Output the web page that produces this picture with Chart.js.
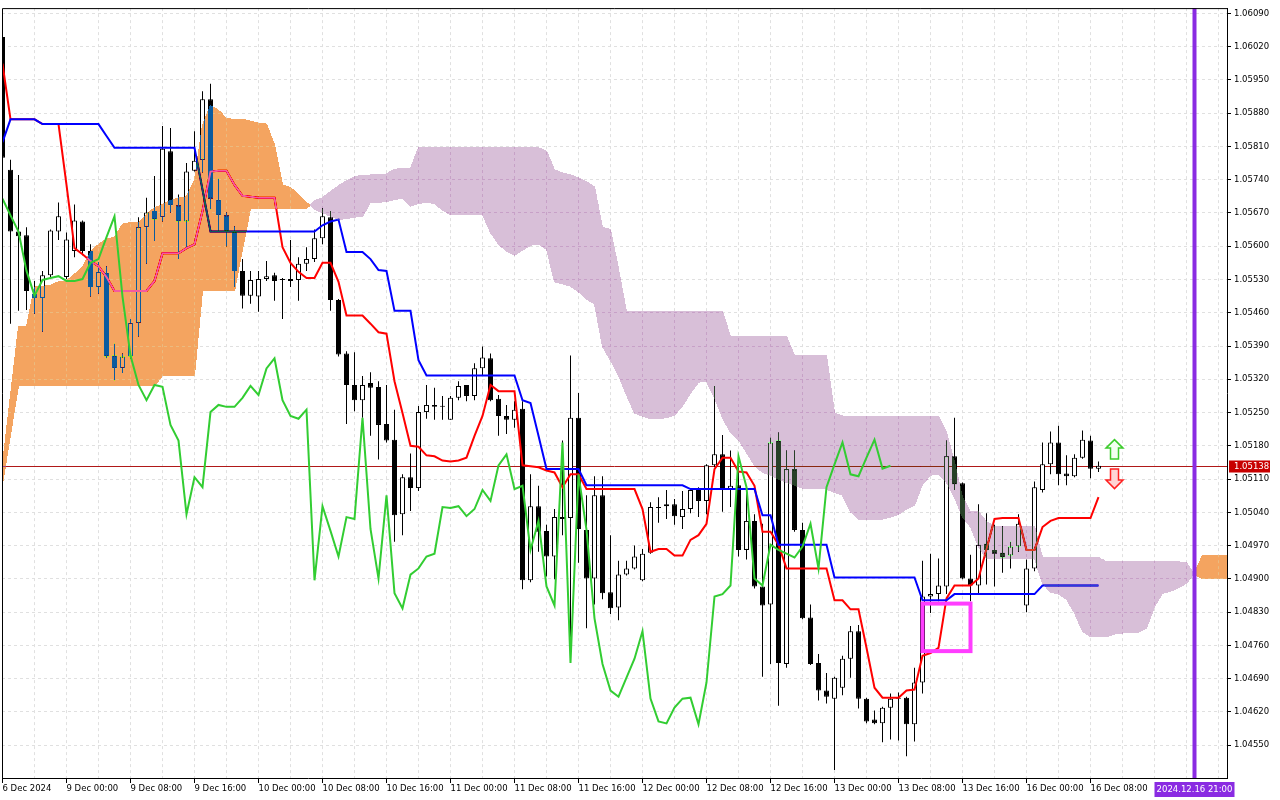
<!DOCTYPE html>
<html>
<head>
<meta charset="utf-8">
<title>EURUSD H1 Ichimoku</title>
<script src="https://cdn.jsdelivr.net/npm/chart.js@4.4.1/dist/chart.umd.min.js"></script>
<style>
  html, body { margin: 0; padding: 0; background: #ffffff; }
  #chart { display: block; }
</style>
</head>
<body>
<canvas id="chart" width="1280" height="800"></canvas>
<script>
// hourly candles, bar 0 = 6 Dec 16:00
const opens = [
  1.06040, 1.05761, 1.05631, 1.05623, 1.05500, 1.05491, 1.05539, 1.05631, 1.05535, 1.05590,
  1.05652, 1.05590, 1.05514, 1.05544, 1.05370, 1.05343, 1.05368, 1.05439, 1.05640, 1.05674,
  1.05661, 1.05800, 1.05686, 1.05652, 1.05759, 1.05782, 1.05909, 1.05698, 1.05665, 1.05631,
  1.05548, 1.05496, 1.05494, 1.05531, 1.05539, 1.05531, 1.05531, 1.05529, 1.05563, 1.05573,
  1.05617, 1.05661, 1.05487, 1.05374, 1.05308, 1.05276, 1.05312, 1.05304, 1.05226, 1.05193,
  1.05036, 1.05114, 1.05091, 1.05251, 1.05266, 1.05264, 1.05235, 1.05281, 1.05308, 1.05285,
  1.05343, 1.05364, 1.05279, 1.05243, 1.05235, 1.05258, 1.04897, 1.05053, 1.05001, 1.04947,
  1.05030, 1.05028, 1.05239, 1.05003, 1.04901, 1.05076, 1.04872, 1.04840, 1.04909, 1.04922,
  1.04897, 1.04955, 1.05051, 1.05057, 1.05057, 1.05030, 1.05047, 1.05087, 1.05064, 1.05139,
  1.05162, 1.05087, 1.05097, 1.04961, 1.05022, 1.04884, 1.04846, 1.05191, 1.04721, 1.05131,
  1.05003, 1.04819, 1.04723, 1.04665, 1.04648, 1.04671, 1.04732, 1.04790, 1.04648, 1.04604,
  1.04596, 1.04629, 1.04648, 1.04650, 1.04594, 1.04682, 1.04863, 1.04868, 1.04884, 1.05158,
  1.05101, 1.04901, 1.04886, 1.04974, 1.04961, 1.04955, 1.04949, 1.04968, 1.04844, 1.04922,
  1.05087, 1.05141, 1.05187, 1.05122, 1.05116, 1.05155, 1.05191, 1.05132
];
const highs = [
  1.06043, 1.05782, 1.05750, 1.05640, 1.05527, 1.05548, 1.05635, 1.05692, 1.05629, 1.05688,
  1.05654, 1.05604, 1.05567, 1.05558, 1.05395, 1.05374, 1.05447, 1.05661, 1.05702, 1.05748,
  1.05853, 1.05849, 1.05709, 1.05775, 1.05842, 1.05926, 1.05942, 1.05742, 1.05671, 1.05642,
  1.05573, 1.05548, 1.05548, 1.05569, 1.05544, 1.05533, 1.05613, 1.05577, 1.05598, 1.05635,
  1.05680, 1.05674, 1.05489, 1.05379, 1.05377, 1.05327, 1.05335, 1.05316, 1.05308, 1.05256,
  1.05120, 1.05164, 1.05264, 1.05308, 1.05302, 1.05285, 1.05285, 1.05316, 1.05308, 1.05354,
  1.05389, 1.05374, 1.05287, 1.05266, 1.05274, 1.05274, 1.05120, 1.05096, 1.05014, 1.05047,
  1.05191, 1.05370, 1.05291, 1.05076, 1.05116, 1.05116, 1.04992, 1.04938, 1.04938, 1.04970,
  1.04963, 1.05061, 1.05072, 1.05087, 1.05068, 1.05085, 1.05089, 1.05093, 1.05141, 1.05306,
  1.05203, 1.05170, 1.05155, 1.05093, 1.05036, 1.05016, 1.05197, 1.05208, 1.05170, 1.05170,
  1.05018, 1.04846, 1.04742, 1.04702, 1.04694, 1.04738, 1.04801, 1.04803, 1.04650, 1.04623,
  1.04631, 1.04659, 1.04661, 1.04652, 1.04713, 1.04938, 1.04953, 1.04943, 1.05191, 1.05239,
  1.05103, 1.04951, 1.05057, 1.05038, 1.05014, 1.05011, 1.04978, 1.05036, 1.04941, 1.05105,
  1.05187, 1.05210, 1.05222, 1.05160, 1.05162, 1.05212, 1.05201, 1.05147
];
const lows = [
  1.05782, 1.05437, 1.05464, 1.05466, 1.05458, 1.05420, 1.05535, 1.05613, 1.05531, 1.05577,
  1.05581, 1.05494, 1.05500, 1.05364, 1.05318, 1.05333, 1.05364, 1.05410, 1.05563, 1.05611,
  1.05652, 1.05671, 1.05573, 1.05598, 1.05757, 1.05755, 1.05678, 1.05631, 1.05600, 1.05514,
  1.05469, 1.05479, 1.05462, 1.05527, 1.05485, 1.05447, 1.05514, 1.05485, 1.05548, 1.05567,
  1.05604, 1.05464, 1.05368, 1.05226, 1.05253, 1.05239, 1.05201, 1.05151, 1.05187, 1.04978,
  1.04992, 1.05043, 1.05085, 1.05237, 1.05235, 1.05235, 1.05235, 1.05276, 1.05274, 1.05276,
  1.05327, 1.05274, 1.05201, 1.05205, 1.05218, 1.04878, 1.04893, 1.04957, 1.04905, 1.04899,
  1.04992, 1.04723, 1.04934, 1.04796, 1.04846, 1.04857, 1.04826, 1.04813, 1.04907, 1.04920,
  1.04895, 1.04953, 1.05018, 1.05026, 1.05014, 1.05005, 1.05038, 1.05030, 1.05036, 1.05135,
  1.05041, 1.05051, 1.04947, 1.04941, 1.04880, 1.04694, 1.04721, 1.04633, 1.04713, 1.04999,
  1.04815, 1.04719, 1.04644, 1.04638, 1.04498, 1.04655, 1.04692, 1.04627, 1.04596, 1.04594,
  1.04556, 1.04562, 1.04560, 1.04527, 1.04558, 1.04659, 1.04828, 1.04853, 1.04868, 1.05087,
  1.04899, 1.04853, 1.04870, 1.04888, 1.04884, 1.04913, 1.04922, 1.04957, 1.04830, 1.04916,
  1.05082, 1.05120, 1.05097, 1.05097, 1.05114, 1.05153, 1.05112, 1.05125
];
const closes = [
  1.05786, 1.05631, 1.05621, 1.05506, 1.05491, 1.05539, 1.05633, 1.05663, 1.05614, 1.05654,
  1.05590, 1.05514, 1.05546, 1.05368, 1.05343, 1.05368, 1.05439, 1.05640, 1.05671, 1.05656,
  1.05805, 1.05686, 1.05652, 1.05757, 1.05780, 1.05909, 1.05700, 1.05665, 1.05631, 1.05548,
  1.05496, 1.05529, 1.05531, 1.05537, 1.05527, 1.05529, 1.05527, 1.05563, 1.05573, 1.05617,
  1.05663, 1.05487, 1.05372, 1.05308, 1.05276, 1.05308, 1.05302, 1.05224, 1.05191, 1.05034,
  1.05114, 1.05091, 1.05251, 1.05266, 1.05262, 1.05262, 1.05281, 1.05306, 1.05285, 1.05343,
  1.05366, 1.05276, 1.05243, 1.05235, 1.05256, 1.04897, 1.05053, 1.04999, 1.04947, 1.05030,
  1.05026, 1.05239, 1.05005, 1.04901, 1.05076, 1.04870, 1.04838, 1.04909, 1.04922, 1.04947,
  1.04953, 1.05051, 1.05049, 1.05053, 1.05032, 1.05047, 1.05087, 1.05064, 1.05139, 1.05162,
  1.05089, 1.05096, 1.04961, 1.05022, 1.04884, 1.04844, 1.05187, 1.04723, 1.05131, 1.05003,
  1.04817, 1.04721, 1.04665, 1.04652, 1.04692, 1.04732, 1.04790, 1.04648, 1.04600, 1.04596,
  1.04629, 1.04648, 1.04650, 1.04594, 1.04682, 1.04863, 1.04868, 1.04886, 1.05158, 1.05099,
  1.04901, 1.04886, 1.04972, 1.04961, 1.04953, 1.04945, 1.04968, 1.05016, 1.04922, 1.05093,
  1.05141, 1.05187, 1.05120, 1.05116, 1.05155, 1.05193, 1.05132, 1.05138
];

// Ichimoku lines
const tenkan = [
  1.05984, 1.05867, 1.05867, 1.05867, 1.05867, 1.05857, 1.05857, 1.05857, 1.05729, 1.05596,
  1.05583, 1.05569, 1.05558, 1.05535, 1.05506, 1.05506, 1.05506, 1.05506, 1.05506, 1.05527,
  1.05585, 1.05585, 1.05585, 1.05596, 1.05604, 1.05674, 1.05757, 1.05759, 1.05759, 1.05729,
  1.05706, 1.05704, 1.05702, 1.05702, 1.05702, 1.05598, 1.05565, 1.05546, 1.05533, 1.05533,
  1.05565, 1.05565, 1.05525, 1.05454, 1.05454, 1.05454, 1.05437, 1.05419, 1.05416, 1.05316,
  1.05249, 1.05180, 1.05178, 1.05160, 1.05158, 1.05149, 1.05147, 1.05149, 1.05155, 1.05201,
  1.05243, 1.05308, 1.05295, 1.05295, 1.05295, 1.05139, 1.05137, 1.05135, 1.05128, 1.05124,
  1.05093, 1.05120, 1.05120, 1.05089, 1.05089, 1.05089, 1.05089, 1.05089, 1.05089, 1.05089,
  1.05047, 1.04957, 1.04963, 1.04963, 1.04949, 1.04949, 1.04982, 1.04992, 1.05016, 1.05131,
  1.05155, 1.05155, 1.05126, 1.05124, 1.05096, 1.04999, 1.04999, 1.04972, 1.04922, 1.04922,
  1.04922, 1.04922, 1.04922, 1.04922, 1.04855, 1.04855, 1.04836, 1.04836, 1.04755, 1.04671,
  1.04650, 1.04650, 1.04650, 1.04665, 1.04667, 1.04738, 1.04744, 1.04755, 1.04859, 1.04886,
  1.04886, 1.04886, 1.04901, 1.04963, 1.05026, 1.05028, 1.05028, 1.05028, 1.04961, 1.04961,
  1.05009, 1.05022, 1.05028, 1.05028, 1.05028, 1.05028, 1.05028, 1.05072
];
const kijun = [
  1.05819, 1.05867, 1.05867, 1.05867, 1.05867, 1.05857, 1.05857, 1.05857, 1.05857, 1.05857,
  1.05857, 1.05857, 1.05857, 1.05832, 1.05807, 1.05807, 1.05807, 1.05807, 1.05807, 1.05807,
  1.05807, 1.05807, 1.05807, 1.05807, 1.05807, 1.05719, 1.05631, 1.05631, 1.05631, 1.05631,
  1.05631, 1.05631, 1.05631, 1.05631, 1.05631, 1.05631, 1.05631, 1.05631, 1.05631, 1.05631,
  1.05644, 1.05652, 1.05656, 1.05588, 1.05588, 1.05588, 1.05573, 1.05550, 1.05548, 1.05464,
  1.05464, 1.05464, 1.05360, 1.05328, 1.05328, 1.05328, 1.05328, 1.05328, 1.05328, 1.05328,
  1.05328, 1.05328, 1.05328, 1.05328, 1.05328, 1.05276, 1.05270, 1.05201, 1.05131, 1.05131,
  1.05131, 1.05131, 1.05131, 1.05097, 1.05097, 1.05097, 1.05097, 1.05097, 1.05097, 1.05097,
  1.05097, 1.05097, 1.05097, 1.05097, 1.05097, 1.05097, 1.05089, 1.05089, 1.05089, 1.05089,
  1.05089, 1.05089, 1.05089, 1.05089, 1.05089, 1.05034, 1.05034, 1.04972, 1.04972, 1.04972,
  1.04972, 1.04972, 1.04972, 1.04972, 1.04903, 1.04903, 1.04903, 1.04903, 1.04903, 1.04903,
  1.04903, 1.04903, 1.04903, 1.04903, 1.04903, 1.04855, 1.04855, 1.04855, 1.04855, 1.04868,
  1.04868, 1.04868, 1.04868, 1.04868, 1.04868, 1.04868, 1.04868, 1.04868, 1.04868, 1.04868,
  1.04886, 1.04886, 1.04886, 1.04886, 1.04886, 1.04886, 1.04886, 1.04886
];
// lagging line, plotted 26 bars back
const chikou = [
  1.05700, 1.05665, 1.05631, 1.05548, 1.05496, 1.05529, 1.05533, 1.05537, 1.05527, 1.05527,
  1.05531, 1.05565, 1.05573, 1.05619, 1.05663, 1.05494, 1.05370, 1.05308, 1.05276, 1.05308,
  1.05304, 1.05224, 1.05191, 1.05036, 1.05114, 1.05093, 1.05251, 1.05266, 1.05262, 1.05262,
  1.05281, 1.05306, 1.05287, 1.05343, 1.05364, 1.05276, 1.05243, 1.05237, 1.05256, 1.04897,
  1.05053, 1.05001, 1.04947, 1.05030, 1.05026, 1.05239, 1.05005, 1.04901, 1.05076, 1.04870,
  1.04838, 1.04909, 1.04922, 1.04947, 1.04953, 1.05051, 1.05049, 1.05053, 1.05032, 1.05047,
  1.05087, 1.05064, 1.05139, 1.05162, 1.05089, 1.05096, 1.04961, 1.05022, 1.04884, 1.04844,
  1.05187, 1.04723, 1.05120, 1.05003, 1.04817, 1.04721, 1.04665, 1.04652, 1.04692, 1.04732,
  1.04790, 1.04648, 1.04600, 1.04596, 1.04629, 1.04648, 1.04650, 1.04594, 1.04682, 1.04863,
  1.04868, 1.04886, 1.05158, 1.05093, 1.04901, 1.04886, 1.04972, 1.04961, 1.04953, 1.04945,
  1.04968, 1.05016, 1.04922, 1.05093, 1.05141, 1.05187, 1.05120, 1.05116, 1.05155, 1.05193,
  1.05132, 1.05138
];
// cloud edges, shifted 26 bars ahead
const spanA = [
  1.05141, 1.05287, 1.05431, 1.05431, 1.05514, 1.05516, 1.05518, 1.05525, 1.05527, 1.05541,
  1.05556, 1.05588, 1.05604, 1.05615, 1.05619, 1.05646, 1.05650, 1.05650, 1.05667, 1.05681,
  1.05688, 1.05696, 1.05702, 1.05704, 1.05740, 1.05855, 1.05896, 1.05886, 1.05869, 1.05867,
  1.05867, 1.05863, 1.05859, 1.05857, 1.05813, 1.05729, 1.05723, 1.05709, 1.05692, 1.05678,
  1.05671, 1.05663, 1.05656, 1.05658, 1.05661, 1.05663, 1.05692, 1.05692, 1.05694, 1.05698,
  1.05702, 1.05684, 1.05690, 1.05692, 1.05690, 1.05676, 1.05667, 1.05667, 1.05667, 1.05667,
  1.05667, 1.05629, 1.05604, 1.05590, 1.05581, 1.05592, 1.05602, 1.05604, 1.05594, 1.05525,
  1.05521, 1.05516, 1.05504, 1.05489, 1.05479, 1.05389, 1.05360, 1.05328, 1.05287, 1.05249,
  1.05243, 1.05237, 1.05237, 1.05239, 1.05245, 1.05264, 1.05291, 1.05314, 1.05316, 1.05281,
  1.05239, 1.05208, 1.05193, 1.05166, 1.05139, 1.05124, 1.05118, 1.05110, 1.05103, 1.05097,
  1.05091, 1.05089, 1.05089, 1.05089, 1.05082, 1.05076, 1.05041, 1.05026, 1.05024, 1.05024,
  1.05026, 1.05030, 1.05036, 1.05047, 1.05055, 1.05099, 1.05118, 1.05120, 1.05103, 1.05072,
  1.05030, 1.05009, 1.04968, 1.04943, 1.04943, 1.04943, 1.04943, 1.04943, 1.04943, 1.04943,
  1.04891, 1.04872, 1.04868, 1.04857, 1.04828, 1.04790, 1.04778, 1.04778, 1.04778, 1.04784,
  1.04786, 1.04786, 1.04788, 1.04796, 1.04842, 1.04870, 1.04874, 1.04882, 1.04891, 1.04913,
  1.04949, 1.04949, 1.04949, 1.04949, 1.04949
];
const spanB = [
  1.05099, 1.05204, 1.05306, 1.05306, 1.05306, 1.05306, 1.05306, 1.05306, 1.05306, 1.05306,
  1.05306, 1.05306, 1.05306, 1.05306, 1.05306, 1.05306, 1.05306, 1.05306, 1.05306, 1.05306,
  1.05328, 1.05328, 1.05328, 1.05328, 1.05328, 1.05506, 1.05506, 1.05506, 1.05506, 1.05506,
  1.05594, 1.05679, 1.05679, 1.05679, 1.05679, 1.05679, 1.05679, 1.05679, 1.05679, 1.05696,
  1.05702, 1.05715, 1.05727, 1.05738, 1.05746, 1.05750, 1.05750, 1.05752, 1.05752, 1.05762,
  1.05764, 1.05764, 1.05807, 1.05807, 1.05807, 1.05807, 1.05807, 1.05807, 1.05807, 1.05807,
  1.05807, 1.05807, 1.05807, 1.05807, 1.05807, 1.05807, 1.05807, 1.05807, 1.05800, 1.05761,
  1.05754, 1.05750, 1.05744, 1.05735, 1.05725, 1.05640, 1.05635, 1.05552, 1.05462, 1.05462,
  1.05462, 1.05462, 1.05462, 1.05462, 1.05462, 1.05462, 1.05462, 1.05462, 1.05462, 1.05462,
  1.05462, 1.05410, 1.05410, 1.05410, 1.05410, 1.05410, 1.05410, 1.05410, 1.05410, 1.05370,
  1.05370, 1.05370, 1.05370, 1.05370, 1.05249, 1.05243, 1.05243, 1.05243, 1.05243, 1.05243,
  1.05243, 1.05243, 1.05243, 1.05243, 1.05243, 1.05243, 1.05243, 1.05243, 1.05208, 1.05145,
  1.05072, 1.05041, 1.05041, 1.05020, 1.05011, 1.05011, 1.05011, 1.05011, 1.05011, 1.05011,
  1.04945, 1.04945, 1.04945, 1.04945, 1.04945, 1.04945, 1.04945, 1.04945, 1.04936, 1.04936,
  1.04936, 1.04936, 1.04936, 1.04936, 1.04936, 1.04936, 1.04936, 1.04936, 1.04934, 1.04909,
  1.04901, 1.04901, 1.04901, 1.04901, 1.04901
];

// axes
const priceTicks = [
  1.04550, 1.04620, 1.04690, 1.04760, 1.04830, 1.04900, 1.04970, 1.05040, 1.05110, 1.05180,
  1.05250, 1.05320, 1.05390, 1.05460, 1.05530, 1.05600, 1.05670, 1.05740, 1.05810, 1.05880,
  1.05950, 1.06020, 1.06090
];
const timeLabels = [
  '6 Dec 2024', '9 Dec 00:00', '9 Dec 08:00', '9 Dec 16:00', '10 Dec 00:00', '10 Dec 08:00',
  '10 Dec 16:00', '11 Dec 00:00', '11 Dec 08:00', '11 Dec 16:00', '12 Dec 00:00', '12 Dec 08:00',
  '12 Dec 16:00', '13 Dec 00:00', '13 Dec 08:00', '13 Dec 16:00', '16 Dec 00:00', '16 Dec 08:00'
];
const labelStep = 8;   // bars between time labels
const gridStep = 4;    // bars between vertical grid lines

// objects on the chart
const bidPrice = 1.05138;
const markerBar = 149;
const markerText = '2024.12.16 21:00';
const box = { from: 115, to: 121, top: 1.04848, bottom: 1.04748 };
const arrowBar = 139;
const buyArrowBase = 1.05152;
const sellArrowTop = 1.05131;

// cloud colours are applied inverted (sandybrown / thistle)
const SANDY_INV = [11, 91, 159];
const THISTLE_INV = [39, 64, 39];

Chart.defaults.font.family = "'DejaVu Sans', sans-serif";
Chart.defaults.font.size = 8.5;
Chart.defaults.color = '#000000';

const barIdx = opens.map((_, i) => i);
const wickData = barIdx.map(i => ({ x: i, y: [lows[i], highs[i]] }));
const bodyData = barIdx.map(i => ({ x: i, y: [opens[i], closes[i]] }));
const bodyColors = barIdx.map(i => closes[i] >= opens[i] ? '#ffffff' : '#000000');

function labelFor(v) {
  if (v % labelStep !== 0) return '';
  const k = v / labelStep;
  return k < timeLabels.length ? timeLabels[k] : '';
}

// Kumo drawn the way the terminal does: the fill inverts what is under it
// (black candles turn blue, red line turns pink, grid dashes get xor'ed)
function drawCloud(chart) {
  const { ctx, chartArea: a, scales: { x, y } } = chart;
  const w = chart.width, h = chart.height;
  const mask = document.createElement('canvas');
  mask.width = w;
  mask.height = h;
  const m = mask.getContext('2d');
  m.beginPath();
  m.rect(a.left, a.top, a.right - a.left, a.bottom - a.top);
  m.clip();

  let aPts = [], bPts = [], up = null, prev = null;
  const flush = () => {
    if (aPts.length < 2) return;
    m.beginPath();
    m.moveTo(aPts[0][0], aPts[0][1]);
    for (let k = 1; k < aPts.length; k++) m.lineTo(aPts[k][0], aPts[k][1]);
    for (let k = bPts.length - 1; k >= 0; k--) m.lineTo(bPts[k][0], bPts[k][1]);
    m.closePath();
    m.fillStyle = up ? '#ff0000' : '#00ff00';
    m.fill();
  };
  for (let i = 0; i < spanA.length; i++) {
    const px = x.getPixelForValue(i);
    const ya = y.getPixelForValue(spanA[i]);
    const yb = y.getPixelForValue(spanB[i]);
    const isUp = spanA[i] >= spanB[i];
    if (up === null) up = isUp;
    if (isUp !== up && prev) {
      const d0 = prev.ya - prev.yb, d1 = ya - yb;
      const t = d0 / (d0 - d1);
      const cx = prev.x + (px - prev.x) * t;
      const cy = prev.ya + (ya - prev.ya) * t;
      aPts.push([cx, cy]); bPts.push([cx, cy]);
      flush();
      aPts = [[cx, cy]]; bPts = [[cx, cy]];
      up = isUp;
    }
    aPts.push([px, ya]); bPts.push([px, yb]);
    prev = { x: px, ya, yb };
  }
  flush();

  const md = m.getImageData(0, 0, w, h).data;
  const img = ctx.getImageData(0, 0, w, h);
  const d = img.data;
  for (let p = 0; p < d.length; p += 4) {
    let inv = null;
    if (md[p] > 127) inv = SANDY_INV;
    else if (md[p + 1] > 127) inv = THISTLE_INV;
    if (!inv) continue;
    const r = d[p], g = d[p + 1], b = d[p + 2];
    if (r === g && g === b && r >= 190) {
      d[p] = r ^ inv[0]; d[p + 1] = g ^ inv[1]; d[p + 2] = b ^ inv[2];
    } else {
      d[p] = Math.abs(r - inv[0]); d[p + 1] = Math.abs(g - inv[1]); d[p + 2] = Math.abs(b - inv[2]);
    }
  }
  ctx.putImageData(img, 0, 0);
}

const ichimokuPlugin = {
  id: 'ichimoku',
  beforeDraw(chart) {
    const { ctx, width, height } = chart;
    ctx.save();
    ctx.fillStyle = '#ffffff';
    ctx.fillRect(0, 0, width, height);
    ctx.restore();
  },
  beforeDatasetsDraw(chart) {
    const { ctx, chartArea: a, scales: { y } } = chart;
    const py = Math.round(y.getPixelForValue(bidPrice)) + 0.5;
    ctx.save();
    ctx.strokeStyle = '#b01818';
    ctx.lineWidth = 1;
    ctx.beginPath();
    ctx.moveTo(a.left, py);
    ctx.lineTo(a.right, py);
    ctx.stroke();
    ctx.restore();
  },
  afterDatasetDraw(chart, args) {
    if (chart.data.datasets[args.index].label === 'Kijun-sen') drawCloud(chart);
  },
  afterDatasetsDraw(chart) {
    const { ctx, chartArea: a, scales: { x, y } } = chart;
    ctx.save();

    // highlighted zone
    ctx.strokeStyle = '#ff3dff';
    ctx.lineWidth = 4;
    const bx0 = x.getPixelForValue(box.from), bx1 = x.getPixelForValue(box.to);
    const by0 = y.getPixelForValue(box.top), by1 = y.getPixelForValue(box.bottom);
    ctx.strokeRect(bx0, by0, bx1 - bx0, by1 - by0);

    // buy / sell arrows
    const cx = x.getPixelForValue(arrowBar);
    const ub = y.getPixelForValue(buyArrowBase);
    ctx.lineWidth = 1.5;
    ctx.lineJoin = 'miter';
    ctx.beginPath();
    ctx.moveTo(cx, ub - 19.5);
    ctx.lineTo(cx + 8.5, ub - 11);
    ctx.lineTo(cx + 4, ub - 11);
    ctx.lineTo(cx + 4, ub);
    ctx.lineTo(cx - 4, ub);
    ctx.lineTo(cx - 4, ub - 11);
    ctx.lineTo(cx - 8.5, ub - 11);
    ctx.closePath();
    ctx.fillStyle = '#f2fff0';
    ctx.fill();
    ctx.strokeStyle = '#3ccc2c';
    ctx.stroke();

    const dt = y.getPixelForValue(sellArrowTop);
    ctx.beginPath();
    ctx.moveTo(cx - 4, dt);
    ctx.lineTo(cx + 4, dt);
    ctx.lineTo(cx + 4, dt + 11);
    ctx.lineTo(cx + 8.5, dt + 11);
    ctx.lineTo(cx, dt + 19.5);
    ctx.lineTo(cx - 8.5, dt + 11);
    ctx.lineTo(cx - 4, dt + 11);
    ctx.closePath();
    ctx.fillStyle = '#ffd4d4';
    ctx.fill();
    ctx.strokeStyle = '#ff2020';
    ctx.stroke();

    // time marker
    const mx = x.getPixelForValue(markerBar);
    ctx.fillStyle = '#8a2be2';
    ctx.fillRect(mx - 2, a.top, 4, a.bottom - a.top);

    // frame
    ctx.strokeStyle = '#000000';
    ctx.lineWidth = 1;
    ctx.beginPath();
    ctx.moveTo(a.left + 0.5, a.bottom);
    ctx.lineTo(a.left + 0.5, a.top + 0.5);
    ctx.lineTo(a.right, a.top + 0.5);
    ctx.stroke();
    ctx.restore();
  },
  afterDraw(chart) {
    const { ctx, chartArea: a, scales: { x, y } } = chart;
    ctx.save();
    ctx.font = "8.5px 'DejaVu Sans', sans-serif";
    ctx.textBaseline = 'middle';

    const py = Math.round(y.getPixelForValue(bidPrice)) + 0.5;
    ctx.fillStyle = '#c80000';
    ctx.fillRect(a.right + 2, py - 6, 41, 12);
    ctx.fillStyle = '#ffffff';
    ctx.textAlign = 'left';
    ctx.fillText(bidPrice.toFixed(5), a.right + 7, py);

    const mx = x.getPixelForValue(markerBar);
    ctx.fillStyle = '#8a2be2';
    ctx.fillRect(mx - 40, a.bottom + 4, 80, 15);
    ctx.fillStyle = '#ffffff';
    ctx.textAlign = 'center';
    ctx.fillText(markerText, mx, a.bottom + 11.5);
    ctx.restore();
  }
};

new Chart(document.getElementById('chart'), {
  type: 'bar',
  data: {
    datasets: [
      {
        label: 'Wicks', data: wickData, order: 6, grouped: false,
        backgroundColor: '#000000', borderWidth: 0, barThickness: 1,
        minBarLength: 1, inflateAmount: 0
      },
      {
        label: 'Bodies', data: bodyData, order: 5, grouped: false,
        backgroundColor: bodyColors, borderColor: '#000000', borderWidth: 1,
        borderSkipped: false, barThickness: 5, minBarLength: 1, inflateAmount: 0
      },
      {
        type: 'line', label: 'Tenkan-sen', order: 4,
        data: tenkan.map((v, i) => ({ x: i, y: v })),
        borderColor: '#ff0000', borderWidth: 2, pointRadius: 0, tension: 0, fill: false
      },
      {
        type: 'line', label: 'Kijun-sen', order: 3,
        data: kijun.map((v, i) => ({ x: i, y: v })),
        borderColor: '#0000ff', borderWidth: 2, pointRadius: 0, tension: 0, fill: false
      },
      {
        type: 'line', label: 'Chikou Span', order: 1,
        data: chikou.map((v, i) => ({ x: i, y: v })),
        borderColor: '#32cd32', borderWidth: 2, pointRadius: 0, tension: 0, fill: false
      }
    ]
  },
  options: {
    responsive: false,
    devicePixelRatio: 1,
    animation: false,
    events: [],
    layout: { padding: { left: 2, top: 2, right: 0, bottom: 0 } },
    plugins: { legend: { display: false }, tooltip: { enabled: false } },
    scales: {
      x: {
        type: 'linear',
        min: -0.0625,
        max: 153.0625,
        offset: false,
        grid: {
          offset: false,
          color: '#e0e0e0',
          lineWidth: 1,
          drawTicks: true,
          tickLength: 5,
          tickColor: ctx => labelFor(ctx.tick.value) ? '#000000' : 'rgba(0,0,0,0)'
        },
        border: { display: true, color: '#000000', dash: [3, 3] },
        ticks: {
          autoSkip: false,
          maxRotation: 0,
          minRotation: 0,
          align: 'start',
          padding: 1,
          callback: v => labelFor(v)
        },
        afterBuildTicks: s => {
          const t = [];
          for (let v = 0; v <= 152; v += gridStep) t.push({ value: v });
          s.ticks = t;
        },
        afterFit: s => { s.height = 22; }
      },
      y: {
        type: 'linear',
        position: 'right',
        min: 1.0448101,
        max: 1.0610106,
        beginAtZero: false,
        grid: { color: '#e0e0e0', lineWidth: 1, drawTicks: true, tickLength: 4, tickColor: '#000000' },
        border: { display: true, color: '#000000', dash: [3, 3] },
        ticks: { autoSkip: false, padding: 3, callback: v => Number(v).toFixed(5) },
        afterBuildTicks: s => { s.ticks = priceTicks.map(v => ({ value: v })); },
        afterFit: s => { s.width = 53; }
      }
    }
  },
  plugins: [ichimokuPlugin]
});
</script>
</body>
</html>
